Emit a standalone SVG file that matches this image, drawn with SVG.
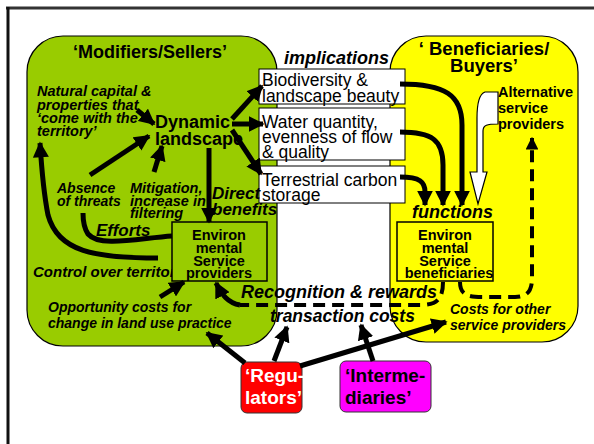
<svg xmlns="http://www.w3.org/2000/svg" width="594" height="444" viewBox="0 0 594 444">
<defs>
<style>
text{font-family:"Liberation Sans",Arial,sans-serif;fill:#000}
.b{font-weight:bold}
.bi{font-weight:bold;font-style:italic}
.t13{font-size:14px}
.t14{font-size:14.5px}
.t17{font-size:17px}
.t18{font-size:18px}
.reg{font-size:17.5px}
.ln{fill:none;stroke:#000;stroke-width:5}
.dash{fill:none;stroke:#000;stroke-width:4;stroke-dasharray:12,7}
.mid{text-anchor:middle}
</style>
<marker id="ah" viewBox="0 0 10 10" refX="9" refY="5" markerWidth="3.2" markerHeight="3.2" orient="auto" markerUnits="strokeWidth">
<path d="M0,0 L10,5 L0,10 Z" fill="#000"/>
</marker>
</defs>
<rect width="594" height="444" fill="#fff"/>
<g id="frame">
<line x1="6" y1="8" x2="594" y2="8" stroke="#333" stroke-width="3"/>
<line x1="8" y1="7" x2="8" y2="444" stroke="#111" stroke-width="3"/>
</g>
<g id="sellers">
<rect x="27" y="36" width="250" height="310" rx="36" fill="#99cc00" stroke="#000" stroke-width="1.2"/>
<text x="150" y="58" class="b t18 mid">‘Modifiers/Sellers’</text>
</g>
<g id="buyers">
<rect x="390" y="36" width="188" height="306" rx="36" fill="#ffff00" stroke="#000" stroke-width="1.2"/>
<text x="484" y="55" class="b mid" font-size="18.5">‘ Beneficiaries/</text>
<text x="484" y="72" class="b mid" font-size="18.5">Buyers’</text>
</g>
<g id="implications">
<text x="284" y="64" class="bi t18">implications</text>
</g>
<g id="box-biodiversity">
<rect x="259" y="69" width="146" height="35" fill="#fff" stroke="#000" stroke-width="1"/>
<text x="262" y="86" class="reg">Biodiversity &amp;</text>
<text x="262" y="102" class="reg">landscape beauty</text>
</g>
<g id="box-water">
<rect x="259" y="108" width="146" height="52" fill="#fff" stroke="#000" stroke-width="1"/>
<text x="262" y="128" class="reg">Water quantity,</text>
<text x="262" y="143" class="reg">evenness of flow</text>
<text x="262" y="158" class="reg">&amp; quality</text>
</g>
<g id="box-carbon">
<rect x="259" y="166" width="146" height="37" fill="#fff" stroke="#000" stroke-width="1"/>
<text x="262" y="186" class="reg">Terrestrial carbon</text>
<text x="262" y="201" class="reg">storage</text>
</g>
<g id="natural-capital">
<text x="37" y="96" class="bi t14">Natural capital &amp;</text>
<text x="37" y="110" class="bi t14">properties that</text>
<text x="37" y="123" class="bi t14">‘come with the</text>
<text x="37" y="136" class="bi t14">territory’</text>
</g>
<g id="dynamic-landscape">
<text x="155" y="128" class="b t18">Dynamic</text>
<text x="155" y="145" class="b t18">landscape</text>
</g>
<g id="absence">
<text x="57" y="193" class="bi t13">Absence</text>
<text x="57" y="206" class="bi t13">of threats</text>
</g>
<g id="mitigation">
<text x="130" y="193" class="bi t14">Mitigation,</text>
<text x="130" y="206" class="bi t14">increase in</text>
<text x="130" y="218" class="bi t14">filtering</text>
</g>
<g id="direct-benefits">
<text x="212" y="199" class="bi t17">Direct</text>
<text x="212" y="215" class="bi t17">benefits</text>
</g>
<g id="efforts">
<text x="96" y="236" class="bi t17">Efforts</text>
</g>
<g id="control">
<text x="33" y="277" class="bi" font-size="15">Control over territory</text>
</g>
<g id="opportunity">
<text x="48" y="312" class="bi t13">Opportunity costs for</text>
<text x="48" y="328" class="bi t13">change in land use practice</text>
</g>
<g id="es-providers">
<rect x="172" y="222" width="95" height="59" fill="#99cc00" stroke="#000" stroke-width="1.5"/>
<text x="219" y="240" class="b t14 mid">Environ</text>
<text x="219" y="253" class="b t14 mid">mental</text>
<text x="219" y="266" class="b t14 mid">Service</text>
<text x="219" y="278" class="b t14 mid">providers</text>
</g>
<g id="functions">
<text x="412" y="218" class="bi t18">functions</text>
</g>
<g id="es-beneficiaries">
<rect x="397" y="222" width="96" height="59" fill="#ffff00" stroke="#000" stroke-width="1.5"/>
<text x="445" y="240" class="b t14 mid">Environ</text>
<text x="445" y="253" class="b t14 mid">mental</text>
<text x="445" y="266" class="b t14 mid">Service</text>
<text x="449" y="278" class="b t14 mid">beneficiaries</text>
</g>
<g id="alternative">
<text x="498" y="97" class="b t14">Alternative</text>
<text x="498" y="113" class="b t14">service</text>
<text x="498" y="129" class="b t14">providers</text>
</g>
<g id="recognition">
<text x="241" y="298" class="bi t18">Recognition &amp; rewards</text>
<text x="270" y="322" class="bi" font-size="17.5">transaction costs</text>
</g>
<g id="costs-other">
<text x="450" y="314" class="bi t13">Costs for other</text>
<text x="450" y="330" class="bi t13">service providers</text>
</g>
<g id="regulators">
<rect x="241" y="362" width="61" height="51" rx="6" fill="#ff0000" stroke="#333" stroke-width="1"/>
<text x="245" y="382" class="b" font-size="19" style="fill:#fff">‘Regu-</text>
<text x="245" y="404" class="b" font-size="19" style="fill:#fff">lators’</text>
</g>
<g id="intermediaries">
<rect x="340" y="361" width="91" height="51" rx="6" fill="#ff00ff" stroke="#333" stroke-width="1"/>
<text x="345" y="382" class="b" font-size="19">‘Interme-</text>
<text x="345" y="404" class="b" font-size="19">diaries’</text>
</g>
<g id="connectors">
<line x1="232" y1="119" x2="262" y2="86" class="ln" marker-end="url(#ah)"/>
<line x1="232" y1="124" x2="263" y2="124" class="ln" marker-end="url(#ah)"/>
<line x1="232" y1="130" x2="261" y2="174" class="ln" marker-end="url(#ah)"/>
<line x1="137" y1="110" x2="154" y2="124" class="ln" marker-end="url(#ah)"/>
<line x1="90" y1="175" x2="149" y2="136" class="ln" marker-end="url(#ah)"/>
<line x1="154" y1="172" x2="162" y2="146" class="ln" marker-end="url(#ah)"/>
<line x1="209" y1="148" x2="209" y2="222" class="ln" marker-end="url(#ah)"/>
<path d="M172,236 C140,238 100,248 88,234 C84,228 83,220 83,213" class="ln"/>
<path d="M158,258 C95,258 58,252 48,215 C44,195 42,175 40,143" class="ln" marker-end="url(#ah)"/>
<line x1="160" y1="297" x2="184" y2="282" class="ln" marker-end="url(#ah)"/>
<path d="M400,84 C445,84 462,95 462,125 L462,205" class="ln" marker-end="url(#ah)"/>
<path d="M400,132 C432,132 443,140 443,165 L443,205" class="ln" marker-end="url(#ah)"/>
<path d="M400,177 C420,177 425,182 425,192 L425,205" class="ln" marker-end="url(#ah)"/>
<path d="M498,92 L485,92 C479,94 477,104 477,118 L477,172 L470,172 L478,204 L487,172 L483,172 L483,131 C483,125 487,124 498,124 Z" fill="#fff" stroke="#000" stroke-width="1.2"/>
<path d="M443,282 C443,300 436,305 420,305 L240,305" class="dash"/>
<path d="M240,305 C228,303 222,295 216,283" class="ln" marker-end="url(#ah)"/>
<path d="M460,282 C460,295 468,297 482,297 L515,297 C528,297 532,290 532,278 L532,138" class="dash" marker-end="url(#ah)"/>
<line x1="245" y1="363" x2="207" y2="333" class="ln" marker-end="url(#ah)"/>
<line x1="274" y1="361" x2="287" y2="327" class="ln" marker-end="url(#ah)"/>
<line x1="300" y1="366" x2="446" y2="322" class="ln" marker-end="url(#ah)"/>
<line x1="373" y1="361" x2="361" y2="325" class="ln" marker-end="url(#ah)"/>
</g>
</svg>
